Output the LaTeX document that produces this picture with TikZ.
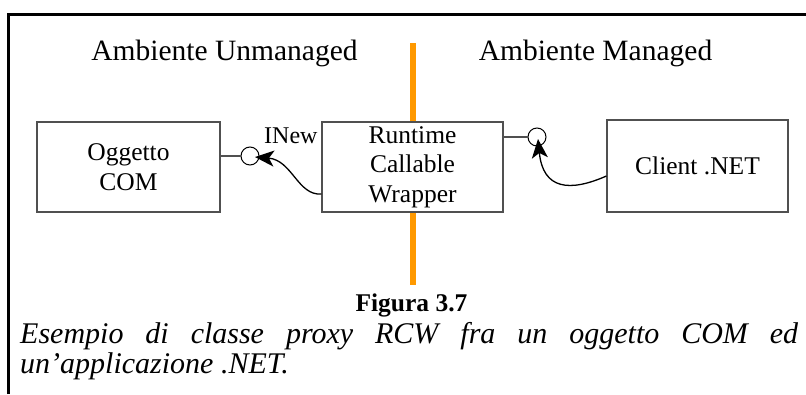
\documentclass[tikz,border=0pt]{standalone}
\usepackage{fontspec}
\setmainfont{Liberation Serif}
\usetikzlibrary{arrows.meta}
\definecolor{divorange}{RGB}{255,153,0}
\definecolor{boxgray}{RGB}{80,80,80}
\begin{document}
\begin{tikzpicture}[x=1pt,y=-1pt,
  boxstyle/.style={draw=boxgray,line width=1.1pt,fill=white,inner sep=0pt,align=center,
    font=\fontsize{25.5}{29.5}\selectfont},
  lollipop/.style={draw=black,line width=1pt,fill=white,circle,inner sep=0pt,minimum size=18pt},
  stem/.style={draw=boxgray,line width=1.1pt},
  callarrow/.style={line width=1.3pt,-{Stealth[length=19pt,width=16pt,inset=5pt]}},
  heading/.style={anchor=base,inner sep=0pt,font=\fontsize{29.5}{33}\selectfont}
]
\useasboundingbox (0,0) rectangle (806,394);
% frame
\draw[line width=2.5pt] (8.5,394) -- (8.5,14.5) -- (806,14.5);
% divider
\draw[divorange,line width=6.5pt] (413,43) -- (413,285);
% headings
\node[heading] (hu) at (224.5,60) {Ambiente Unmanaged};
\node[heading] (hm) at (595.5,60) {Ambiente Managed};
% boxes
\node[boxstyle,minimum width=183pt,minimum height=90pt] (com) at (128.5,167) {Oggetto\\COM};
\node[boxstyle,minimum width=181pt,minimum height=90pt] (rcw) at (412.5,167) {Runtime\\Callable\\Wrapper};
\node[boxstyle,minimum width=181pt,minimum height=92pt] (client) at (697.5,166) {Client .NET};
% interfaces
\node[lollipop] (i1) at (250,156) {};
\node[lollipop] (i2) at (537,137) {};
\draw[stem] (com.east |- i1) -- (i1.west);
\draw[stem] (rcw.east |- i2) -- (i2.west);
\node[anchor=base west,inner sep=0pt,font=\fontsize{24}{28}\selectfont] (inew) at (264,143) {INew};
% calls
\coordinate (s1) at (rcw.west |- 0,194);
\coordinate (t1) at (255,157);
\draw[callarrow] (s1) .. controls (298,196) and (292,160) .. (t1);
\coordinate (s2) at (client.west |- 0,176);
\coordinate (t2) at (538,139);
\draw[callarrow] (s2) .. controls (570,192) and (543,190) .. (t2);
% caption
\node[anchor=base,inner sep=0pt,font=\fontsize{25.5}{30}\selectfont\bfseries] (fig) at (411.5,311) {Figura 3.7};
\node[anchor=base west,inner sep=0pt,text width=778pt,align=justify,
  font=\fontsize{30}{30}\selectfont\itshape] (cap) at (20,343)
  {Esempio di classe proxy RCW fra un oggetto COM ed un’applicazione .NET.};
\end{tikzpicture}
\end{document}
